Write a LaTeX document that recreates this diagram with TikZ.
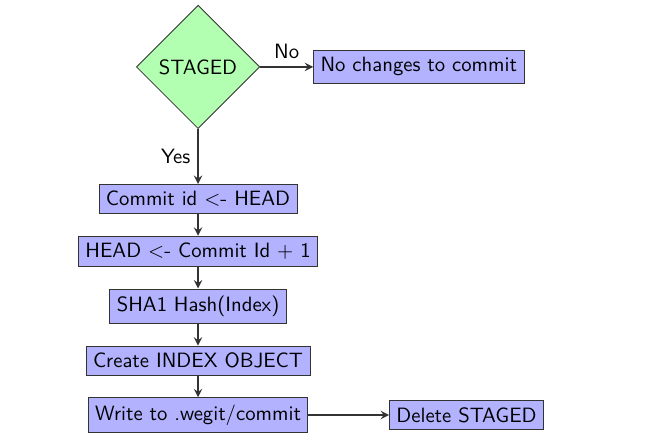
\documentclass[tikz,border=0pt]{standalone}
\usepackage{tikz}
\usetikzlibrary{shapes.geometric,positioning}
\tikzset{
  flownode/.style = {align=center, text centered, font=\sffamily},
  decision/.style = {flownode, diamond, draw=black!80, fill=green!30, aspect=1, inner sep=3.6pt},
  block/.style = {flownode, rectangle, draw=black!80, fill=blue!30},
  flowline/.style = {draw=black!80, thick, ->, >=stealth},
}

\begin{document}
\begin{tikzpicture}[node distance=10.5pt]
\useasboundingbox (-95.6pt,32.3pt) rectangle (217.2pt,-182pt);
\node [decision] (staged) at (0,0) {STAGED};
\node [block, right=25.6pt of staged] (nochange) {No changes to commit};
\node [block, below=26.5pt of staged] (commitid) {Commit id <- HEAD};
\node [block, below=of commitid] (head) {HEAD <- Commit Id + 1};
\node [block, below=of head] (sha) {SHA1 Hash(Index)};
\node [block, below=of sha] (index) {Create INDEX OBJECT};
\node [block, below=of index] (write) {Write to .wegit/commit};
\node [block, right=39pt of write] (delete) {Delete STAGED};

\draw [flowline] (staged) -- node [above, flownode] {No} (nochange);
\draw [flowline] (staged) -- node [left, flownode] {Yes} (commitid);
\draw [flowline] (commitid) -- (head);
\draw [flowline] (head) -- (sha);
\draw [flowline] (sha) -- (index);
\draw [flowline] (index) -- (write);
\draw [flowline] (write) -- (delete);
\end{tikzpicture}
\end{document}
